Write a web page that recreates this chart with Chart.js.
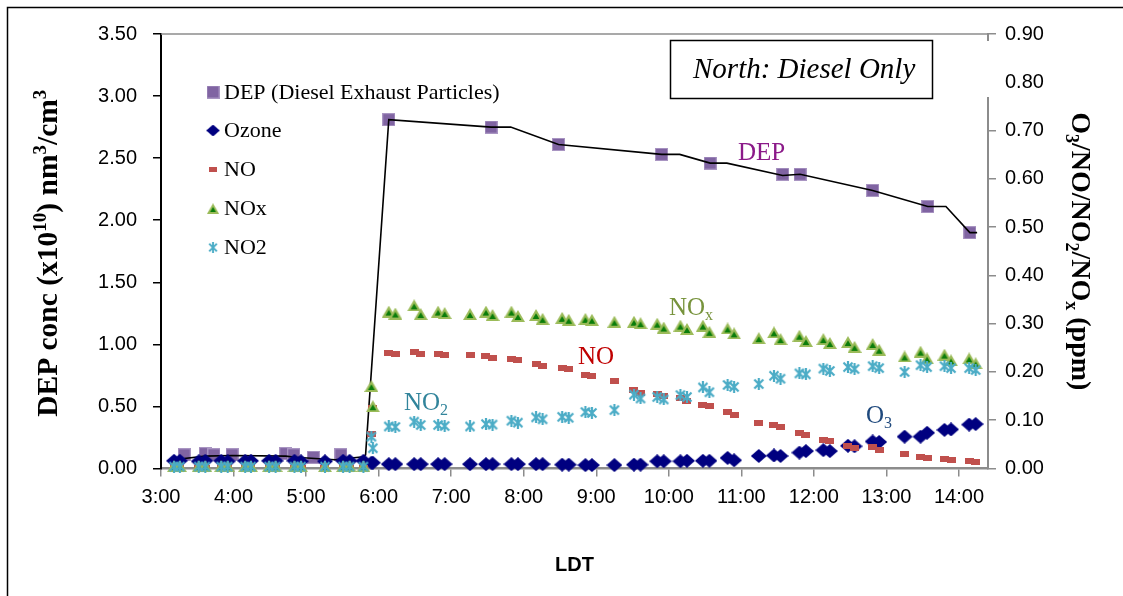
<!DOCTYPE html>
<html>
<head>
<meta charset="utf-8">
<script src="https://cdn.jsdelivr.net/npm/chart.js@4"></script>
<style>
  html, body { margin: 0; padding: 0; background: #fff; }
  #chart { display: block; }
</style>
</head>
<body>
<canvas id="chart" width="1123" height="596"></canvas>
<script>
// sample times in decimal hours (LDT)
const sampleTimes = [
  3.18, 3.26, 3.52, 3.61, 3.83, 3.92, 4.16, 4.24, 4.49, 4.58, 4.84, 4.93, 5.26, 5.51, 5.60, 5.79, 5.90, 5.92,
  6.14, 6.23, 6.49, 6.58, 6.82, 6.91, 7.26, 7.48, 7.57, 7.83, 7.92, 8.17, 8.26, 8.53, 8.62, 8.85, 8.94, 9.25,
  9.52, 9.61, 9.84, 9.93, 10.16, 10.25, 10.47, 10.56, 10.81, 10.90, 11.24, 11.45, 11.54, 11.80, 11.89,
  12.13, 12.22, 12.47, 12.56, 12.81, 12.90, 13.25, 13.47, 13.56, 13.80, 13.89, 14.14, 14.23
];
// ppm, right axis
const ozone = [
  0.016, 0.016, 0.015, 0.016, 0.016, 0.015, 0.016, 0.016, 0.016, 0.016, 0.016, 0.015, 0.015, 0.016, 0.016, 0.016, 0.012, 0.012,
  0.009, 0.009, 0.009, 0.009, 0.009, 0.009, 0.009, 0.009, 0.009, 0.009, 0.009, 0.009, 0.009, 0.008, 0.008, 0.007, 0.007, 0.007,
  0.008, 0.008, 0.015, 0.015, 0.015, 0.016, 0.016, 0.016, 0.022, 0.017, 0.026, 0.027, 0.026, 0.033, 0.036,
  0.038, 0.036, 0.047, 0.046, 0.056, 0.055, 0.066, 0.066, 0.074, 0.080, 0.081, 0.091, 0.092
];
const no = [
  0.002, 0.002, 0.002, 0.002, 0.002, 0.002, 0.002, 0.002, 0.002, 0.002, 0.002, 0.002, 0.002, 0.002, 0.002, 0.001, 0.072, 0.125,
  0.240, 0.238, 0.242, 0.238, 0.238, 0.235, 0.235, 0.233, 0.229, 0.226, 0.224, 0.216, 0.212, 0.209, 0.207, 0.193, 0.191, 0.181,
  0.163, 0.157, 0.154, 0.150, 0.146, 0.140, 0.132, 0.129, 0.116, 0.111, 0.094, 0.090, 0.086, 0.074, 0.070,
  0.060, 0.056, 0.047, 0.042, 0.044, 0.039, 0.031, 0.024, 0.022, 0.020, 0.018, 0.015, 0.013
];
const nox = [
  0.005, 0.005, 0.005, 0.005, 0.005, 0.005, 0.005, 0.005, 0.005, 0.005, 0.005, 0.005, 0.005, 0.005, 0.005, 0.005, 0.171, 0.129,
  0.325, 0.321, 0.338, 0.320, 0.325, 0.322, 0.320, 0.325, 0.318, 0.325, 0.316, 0.318, 0.310, 0.312, 0.308, 0.310, 0.308, 0.304,
  0.304, 0.301, 0.300, 0.292, 0.296, 0.289, 0.296, 0.283, 0.290, 0.280, 0.270, 0.282, 0.268, 0.275, 0.264,
  0.268, 0.260, 0.262, 0.252, 0.258, 0.246, 0.232, 0.242, 0.228, 0.236, 0.224, 0.228, 0.218
];
const no2 = [
  0.004, 0.004, 0.004, 0.004, 0.004, 0.004, 0.004, 0.004, 0.004, 0.004, 0.004, 0.004, 0.004, 0.004, 0.004, 0.004, 0.066, 0.042,
  0.087, 0.086, 0.097, 0.090, 0.090, 0.088, 0.087, 0.092, 0.091, 0.099, 0.095, 0.106, 0.102, 0.107, 0.105, 0.117, 0.115, 0.121,
  0.153, 0.145, 0.148, 0.143, 0.152, 0.148, 0.168, 0.158, 0.173, 0.169, 0.175, 0.192, 0.186, 0.197, 0.195,
  0.207, 0.202, 0.210, 0.206, 0.212, 0.208, 0.200, 0.214, 0.210, 0.212, 0.208, 0.208, 0.204
];

// DEP conc (x10^10 nm3/cm3), left axis
const depTimes = [3.32, 3.61, 3.73, 3.98, 4.72, 4.83, 5.10, 5.48,
  6.14, 7.55, 8.48, 9.90, 10.57, 11.57, 11.81, 12.81, 13.57, 14.15];
const depValues = [0.11, 0.12, 0.11, 0.11, 0.12, 0.11, 0.09, 0.11,
  2.81, 2.75, 2.61, 2.53, 2.46, 2.37, 2.37, 2.24, 2.11, 1.90];
const depLineTimes = [3.32, 3.61, 3.98, 4.72, 4.85, 5.40, 5.79, 5.82, 6.14, 7.55, 7.82, 8.48,
  9.90, 10.15, 10.57, 10.80, 11.57, 11.81, 12.81, 13.57, 13.82, 14.15, 14.25];
const depLineValues = [0.08, 0.10, 0.105, 0.10, 0.09, 0.07, 0.095, 0.11, 2.81, 2.75, 2.75, 2.61,
  2.53, 2.53, 2.46, 2.46, 2.36, 2.37, 2.24, 2.11, 2.11, 1.90, 1.90];

const hourTicks = [3, 4, 5, 6, 7, 8, 9, 10, 11, 12, 13, 14];
const depTicks = [0, 0.5, 1, 1.5, 2, 2.5, 3, 3.5];
const ppmTicks = [0, 0.1, 0.2, 0.3, 0.4, 0.5, 0.6, 0.7, 0.8, 0.9];

const SERIF = '"Liberation Serif", "Times New Roman", serif';
const SANS = '"Liberation Sans", Arial, sans-serif';

function pts(xs, ys) {
  return xs.map((x, i) => ({ x: x, y: ys[i] }));
}

// marker images
function marker(w, h, paint) {
  const c = document.createElement('canvas');
  c.width = w; c.height = h;
  paint(c.getContext('2d'), w, h);
  return c;
}
const squareMk = marker(13, 13, (g, w, h) => {
  g.fillStyle = '#8064A2';
  g.fillRect(0, 0, w, h);
  g.strokeStyle = '#A995C2';
  g.lineWidth = 1;
  g.strokeRect(0.5, 0.5, w - 1, h - 1);
});
const diamondMk = marker(16, 14, (g, w, h) => {
  g.fillStyle = '#000080';
  g.beginPath();
  g.moveTo(w / 2, 0); g.lineTo(w, h / 2); g.lineTo(w / 2, h); g.lineTo(0, h / 2);
  g.closePath(); g.fill();
});
const dashMk = marker(9, 6, (g, w, h) => {
  g.fillStyle = '#C0504D';
  g.fillRect(0, 0, w, h);
});
const triMk = marker(14, 12, (g, w, h) => {
  g.fillStyle = '#9BBB59';
  g.beginPath();
  g.moveTo(w / 2, 0); g.lineTo(w, h); g.lineTo(0, h); g.closePath(); g.fill();
  g.fillStyle = '#0A7D0A';
  g.beginPath();
  g.moveTo(w / 2, 4.2); g.lineTo(w - 3.6, h - 2); g.lineTo(3.6, h - 2); g.closePath(); g.fill();
});
const starMk = marker(12, 12, (g, w, h) => {
  g.strokeStyle = '#4BACC6';
  g.lineWidth = 2.2;
  g.beginPath();
  g.moveTo(1.5, 1.5); g.lineTo(w - 1.5, h - 1.5);
  g.moveTo(w - 1.5, 1.5); g.lineTo(1.5, h - 1.5);
  g.moveTo(w / 2, 0); g.lineTo(w / 2, h);
  g.stroke();
});

// text with sub/superscript runs
function richText(ctx, runs, x, y, size, style, color, align, angle) {
  ctx.save();
  ctx.translate(x, y);
  ctx.rotate(angle || 0);
  ctx.fillStyle = color;
  ctx.textBaseline = 'alphabetic';
  ctx.textAlign = 'left';
  const fontOf = r => style + ' ' + (r.sub || r.sup ? Math.round(size * 0.65) : size) + 'px ' + SERIF;
  let total = 0;
  runs.forEach(r => { ctx.font = fontOf(r); total += ctx.measureText(r.t).width; });
  let cx = align === 'center' ? -total / 2 : 0;
  runs.forEach(r => {
    ctx.font = fontOf(r);
    const dy = r.sup ? -size * 0.36 : (r.sub ? size * 0.2 : 0);
    ctx.fillText(r.t, cx, dy);
    cx += ctx.measureText(r.t).width;
  });
  ctx.restore();
}

const legendItems = [
  { img: squareMk, text: 'DEP (Diesel Exhaust Particles)', y: 92 },
  { img: diamondMk, text: 'Ozone', y: 130.5 },
  { img: dashMk, text: 'NO', y: 169.5 },
  { img: triMk, text: 'NOx', y: 208.5 },
  { img: starMk, text: 'NO2', y: 247.5 }
];

const decorations = {
  id: 'decorations',
  afterDraw(chart) {
    const ctx = chart.ctx;
    const area = chart.chartArea;
    ctx.save();

    // top edge of the plot area
    ctx.strokeStyle = '#8C8C8C';
    ctx.lineWidth = 1.5;
    ctx.beginPath();
    ctx.moveTo(area.left, area.top);
    ctx.lineTo(area.right, area.top);
    ctx.stroke();

    // gap in the right axis behind the note box
    ctx.fillStyle = '#fff';
    ctx.fillRect(area.right - 3, 41, 12, 56);

    // outer frame
    ctx.strokeStyle = '#000';
    ctx.lineWidth = 1.5;
    ctx.strokeRect(7.5, 7.5, 1300, 800);

    // legend
    legendItems.forEach(it => {
      const s = it.img === squareMk ? 1 : 0.85;
      const w = it.img.width * s, h = it.img.height * s;
      ctx.drawImage(it.img, 213 - w / 2, it.y - h / 2, w, h);
      ctx.font = '22px ' + SERIF;
      ctx.fillStyle = '#000';
      ctx.textBaseline = 'middle';
      ctx.fillText(it.text, 224, it.y + 1);
    });

    // note box
    ctx.strokeStyle = '#000';
    ctx.lineWidth = 1.5;
    ctx.strokeRect(670.5, 40.5, 262, 58);
    richText(ctx, [{ t: 'North: Diesel Only' }], 693, 78, 29, 'italic', '#000', 'left');

    // series labels
    richText(ctx, [{ t: 'DEP' }], 738, 160, 25, 'normal', '#8B1A89', 'left');
    richText(ctx, [{ t: 'NO' }, { t: 'x', sub: true }], 669, 314.5, 25, 'normal', '#77933C', 'left');
    richText(ctx, [{ t: 'NO' }], 578, 364, 25, 'normal', '#C00000', 'left');
    richText(ctx, [{ t: 'NO' }, { t: '2', sub: true }], 404, 410, 25, 'normal', '#31849B', 'left');
    richText(ctx, [{ t: 'O' }, { t: '3', sub: true }], 866, 422.5, 25, 'normal', '#1F497D', 'left');

    // axis titles
    const midY = (area.top + area.bottom) / 2;
    richText(ctx, [{ t: 'DEP conc (x10' }, { t: '10', sup: true }, { t: ') nm' }, { t: '3', sup: true },
      { t: '/cm' }, { t: '3', sup: true }], 57, midY + 2, 29.5, 'bold', '#000', 'center', -Math.PI / 2);
    richText(ctx, [{ t: 'O' }, { t: '3', sub: true }, { t: '/NO/NO' }, { t: '2', sub: true }, { t: '/NO' },
      { t: 'x', sub: true }, { t: ' (ppm)' }], 1072, midY, 28, 'bold', '#000', 'center', Math.PI / 2);

    ctx.font = 'bold 20px ' + SANS;
    ctx.fillStyle = '#000';
    ctx.textAlign = 'center';
    ctx.textBaseline = 'middle';
    ctx.fillText('LDT', (area.left + area.right) / 2, 565);
    ctx.restore();
  }
};

const markerSet = (label, data, img, axis, order) => ({
  label: label,
  data: data,
  yAxisID: axis,
  showLine: false,
  pointStyle: img,
  pointRadius: 5,
  order: order,
  clip: false
});

new Chart(document.getElementById('chart'), {
  type: 'scatter',
  data: {
    datasets: [
      markerSet('DEP (Diesel Exhaust Particles)', pts(depTimes, depValues), squareMk, 'y', 6),
      {
        label: 'DEP line',
        data: pts(depLineTimes, depLineValues),
        yAxisID: 'y',
        showLine: true,
        borderColor: '#000',
        borderWidth: 1.6,
        pointRadius: 0,
        tension: 0,
        order: 5,
        clip: false
      },
      markerSet('Ozone', pts(sampleTimes, ozone), diamondMk, 'y1', 4),
      markerSet('NO', pts(sampleTimes, no), dashMk, 'y1', 3),
      markerSet('NOx', pts(sampleTimes, nox), triMk, 'y1', 2),
      markerSet('NO2', pts(sampleTimes, no2), starMk, 'y1', 1)
    ]
  },
  options: {
    responsive: false,
    animation: false,
    events: [],
    layout: { padding: { top: 34, left: 0, right: 0, bottom: 0 } },
    plugins: { legend: { display: false }, tooltip: { enabled: false } },
    scales: {
      x: {
        type: 'linear',
        min: 3,
        max: 14.4,
        afterBuildTicks: s => { s.ticks = hourTicks.map(v => ({ value: v })); },
        afterFit: s => { s.height = 596 - 468.5; },
        ticks: {
          callback: v => v + ':00',
          font: { family: SANS, size: 20 },
          color: '#000',
          padding: 9,
          maxRotation: 0,
          autoSkip: false
        },
        grid: { drawOnChartArea: false, tickLength: 8, color: '#8C8C8C', lineWidth: 1.5 },
        border: { color: '#8C8C8C', width: 2.5 }
      },
      y: {
        position: 'left',
        min: 0,
        max: 3.5,
        afterBuildTicks: s => { s.ticks = depTicks.map(v => ({ value: v })); },
        afterFit: s => { s.width = 161; },
        ticks: {
          callback: v => v.toFixed(2),
          font: { family: SANS, size: 20 },
          color: '#000',
          padding: 16
        },
        grid: { drawOnChartArea: false, tickLength: 8, color: '#000', lineWidth: 1.5 },
        border: { color: '#000', width: 2 }
      },
      y1: {
        position: 'right',
        min: 0,
        max: 0.9,
        afterBuildTicks: s => { s.ticks = ppmTicks.map(v => ({ value: v })); },
        afterFit: s => { s.width = 1123 - 988; },
        ticks: {
          callback: v => v.toFixed(2),
          font: { family: SANS, size: 20 },
          color: '#000',
          padding: 9
        },
        grid: { drawOnChartArea: false, tickLength: 8, color: '#8C8C8C', lineWidth: 1.5 },
        border: { color: '#8C8C8C', width: 2 }
      }
    }
  },
  plugins: [decorations]
});
</script>
</body>
</html>
